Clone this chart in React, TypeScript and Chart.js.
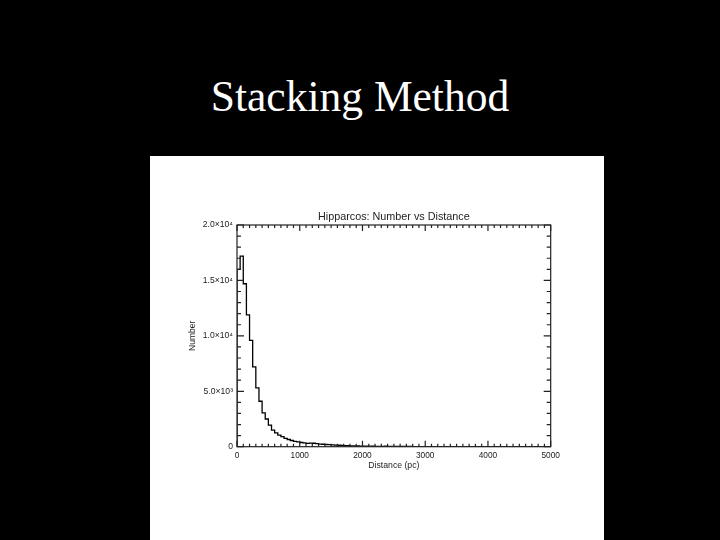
import React, { useEffect, useRef } from 'react';
import { Chart, registerables } from 'chart.js';

Chart.register(...registerables);

const slideTitle = 'Stacking Method';
const chartTitle = 'Hipparcos: Number vs Distance';
const xAxisTitle = 'Distance (pc)';
const yAxisTitle = 'Number';

// histogram bins of 50 pc starting at 0
const binWidth = 50;
const counts = [
  7000, 16000, 17200, 14700, 11900, 9600, 7200, 5300, 4100, 3050,
  2500, 1950, 1500, 1250, 1050, 900, 750, 650, 560, 480,
  430, 380, 340, 300, 330, 310, 270, 240, 220, 200,
  180, 160, 150, 130, 120, 100, 90, 80, 70, 65,
  60, 55, 50, 45, 40, 38, 35, 32, 45, 30,
  28, 25, 23, 20, 20, 18, 16, 15, 14, 12,
  12, 10, 10, 9, 8, 8, 7, 7, 6, 6,
  5, 5, 5, 4, 4, 4, 3, 3, 3, 3,
  2, 2, 2, 2, 2, 2, 1, 1, 1, 1,
  1, 1, 1, 1, 1, 0, 0, 0, 0, 0,
];

const xTickValues = [0, 1000, 2000, 3000, 4000, 5000];
const xTickLabels = ['0', '1000', '2000', '3000', '4000', '5000'];
const yTickValues = [0, 5000, 10000, 15000, 20000];
const yTickLabels = ['0', '5.0\u00d710\u00b3', '1.0\u00d710\u2074', '1.5\u00d710\u2074', '2.0\u00d710\u2074'];
const xMinorStep = 100;
const yMinorStep = 1000;

const FONT = "'Liberation Sans', Arial, sans-serif";
const INK = '#222';

const frameTicks = {
  id: 'frameTicks',
  afterDatasetsDraw(chart: any) {
    const { ctx, chartArea: a, scales } = chart;
    const x = scales.x;
    const y = scales.y;
    ctx.save();
    ctx.strokeStyle = INK;
    ctx.lineWidth = 1.2;
    ctx.strokeRect(a.left, a.top, a.right - a.left, a.bottom - a.top);
    ctx.beginPath();
    for (let v = x.min; v <= x.max; v += xMinorStep) {
      const px = x.getPixelForValue(v);
      const len = xTickValues.includes(v) ? 6 : 3;
      ctx.moveTo(px, a.bottom);
      ctx.lineTo(px, a.bottom - len);
      ctx.moveTo(px, a.top);
      ctx.lineTo(px, a.top + len);
    }
    for (let v = y.min; v <= y.max; v += yMinorStep) {
      const py = y.getPixelForValue(v);
      const len = yTickValues.includes(v) ? 7 : 4;
      ctx.moveTo(a.left, py);
      ctx.lineTo(a.left + len, py);
      ctx.moveTo(a.right, py);
      ctx.lineTo(a.right - len, py);
    }
    ctx.stroke();
    // chart title centred over the plot area
    ctx.fillStyle = INK;
    ctx.font = `10.8px ${FONT}`;
    ctx.textAlign = 'center';
    ctx.textBaseline = 'middle';
    ctx.fillText(chartTitle, (a.left + a.right) / 2, a.top - 8);
    ctx.restore();
  },
};

export default function App() {
  const ref = useRef<HTMLCanvasElement | null>(null);

  useEffect(() => {
    if (!ref.current) return;
    const points = [{ x: 0, y: 0 }];
    counts.forEach((c, i) => points.push({ x: i * binWidth, y: c }));
    points.push({ x: counts.length * binWidth, y: counts[counts.length - 1] });

    const chart = new Chart(ref.current, {
      type: 'line',
      data: {
        datasets: [
          {
            label: chartTitle,
            data: points,
            stepped: 'after',
            borderColor: '#000',
            borderWidth: 1.3,
            pointRadius: 0,
            fill: false,
          },
        ],
      },
      options: {
        animation: false,
        responsive: false,
        maintainAspectRatio: false,
        layout: { padding: { left: 0, right: 53.3, top: 69, bottom: 0 } },
        plugins: {
          legend: { display: false },
          tooltip: { enabled: false },
          title: { display: false },
        },
        scales: {
          x: {
            type: 'linear',
            min: 0,
            max: 5000,
            grid: { display: false, drawTicks: false },
            border: { display: false },
            ticks: {
              color: INK,
              font: { family: FONT, size: 8.3 },
              padding: 4,
              maxRotation: 0,
              autoSkip: false,
              callback: (v: any) => xTickLabels[xTickValues.indexOf(Number(v))] ?? '',
            },
            afterBuildTicks: (s: any) => {
              s.ticks = xTickValues.map((v) => ({ value: v }));
            },
            afterFit: (s: any) => {
              s.height = 93.3;
            },
            title: {
              display: true,
              text: xAxisTitle,
              color: INK,
              font: { family: FONT, size: 8.7 },
              padding: { top: 0, bottom: 68.9 },
            },
          },
          y: {
            type: 'linear',
            min: 0,
            max: 20000,
            grid: { display: false, drawTicks: false },
            border: { display: false },
            ticks: {
              color: INK,
              font: { family: FONT, size: 8.6 },
              padding: 4,
              autoSkip: false,
              callback: (v: any) => yTickLabels[yTickValues.indexOf(Number(v))] ?? '',
            },
            afterBuildTicks: (s: any) => {
              s.ticks = yTickValues.map((v) => ({ value: v }));
            },
            afterFit: (s: any) => {
              s.width = 87;
            },
            title: {
              display: true,
              text: yAxisTitle,
              color: INK,
              font: { family: FONT, size: 8.5 },
              padding: { top: 38, bottom: 0 },
            },
          },
        },
      },
      plugins: [frameTicks],
    } as any);
    return () => chart.destroy();
  }, []);

  return (
    <div
      style={{
        position: 'fixed',
        left: 0,
        top: 0,
        width: 720,
        height: 540,
        background: '#000',
        overflow: 'hidden',
      }}
    >
      <div
        style={{
          position: 'absolute',
          left: 0,
          top: 75,
          width: 720,
          textAlign: 'center',
          color: '#fff',
          fontFamily: "'Liberation Serif', 'Times New Roman', serif",
          fontSize: 43.5,
          lineHeight: '43.5px',
          whiteSpace: 'nowrap',
        }}
      >
        {slideTitle}
      </div>
      <div
        style={{
          position: 'absolute',
          left: 150,
          top: 156,
          width: 454,
          height: 384,
          background: '#fff',
        }}
      >
        <canvas ref={ref} width={454} height={384} style={{ display: 'block', width: 454, height: 384 }} />
      </div>
    </div>
  );
}
